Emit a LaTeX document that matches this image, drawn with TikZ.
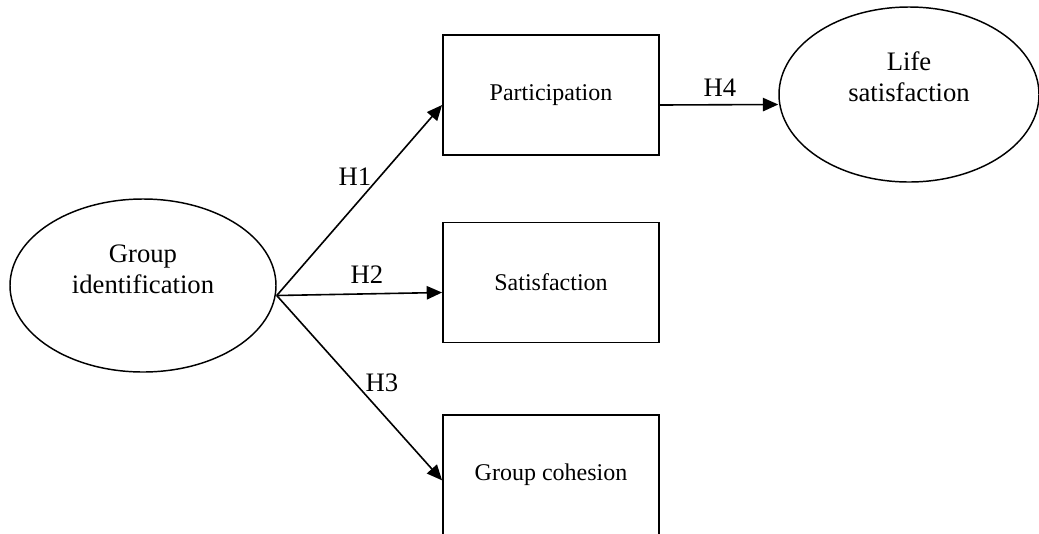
\documentclass[tikz,border=0pt]{standalone}
\usepackage{fontspec}
\setmainfont{Liberation Serif}
\usetikzlibrary{arrows.meta,shapes.geometric}

\begin{document}
\begin{tikzpicture}[x=0.75pt,y=-0.75pt,
    construct/.style={draw, line width=1.4pt, rectangle, minimum width=162pt, minimum height=90pt, inner sep=0pt, font=\fontsize{18}{21}\selectfont},
    latent/.style={draw, line width=1.1pt, ellipse, inner sep=0pt},
    latenttext/.style={align=center, inner sep=0pt, font=\fontsize{20}{23.5}\selectfont},
    hyppath/.style={line width=1.2pt, -{Triangle[length=11.5pt,width=10pt]}},
    hyp/.style={inner sep=0pt, font=\fontsize{20}{23}\selectfont}]
    \useasboundingbox (0,0) rectangle (1039,533);

    % latent constructs
    \node[latent, minimum width=199.5pt, minimum height=129.75pt] (ident) at (143,285.5) {};
    \node[latenttext] (identtext) at (143,269) {Group\\identification};
    \node[latent, minimum width=195pt, minimum height=131.25pt] (life) at (909,94.5) {};
    \node[latenttext] (lifetext) at (909,77) {Life\\satisfaction};

    % observed constructs
    \node[construct] (part) at (551,95) {Participation};
    \node[construct] (sat) at (551,282.5) {Satisfaction};
    \node[construct] (coh) at (551,475) {Group cohesion};

    % hypothesised paths
    \draw[hyppath] ([yshift=-7.5pt]ident.east) -- ([yshift=-7.5pt]part.west);
    \draw[hyppath] ([yshift=-7.5pt]ident.east) -- ([yshift=-7.5pt]sat.west);
    \draw[hyppath] ([yshift=-7.5pt]ident.east) -- ([yshift=-4pt]coh.west);
    \draw[hyppath] ([yshift=-7.5pt]part.east) -- ([yshift=-7.5pt]life.west);

    \node[hyp] (h1) at (355,177) {H1};
    \node[hyp] (h2) at (367,275) {H2};
    \node[hyp] (h3) at (382,383) {H3};
    \node[hyp] (h4) at (720,88) {H4};
\end{tikzpicture}
\end{document}
